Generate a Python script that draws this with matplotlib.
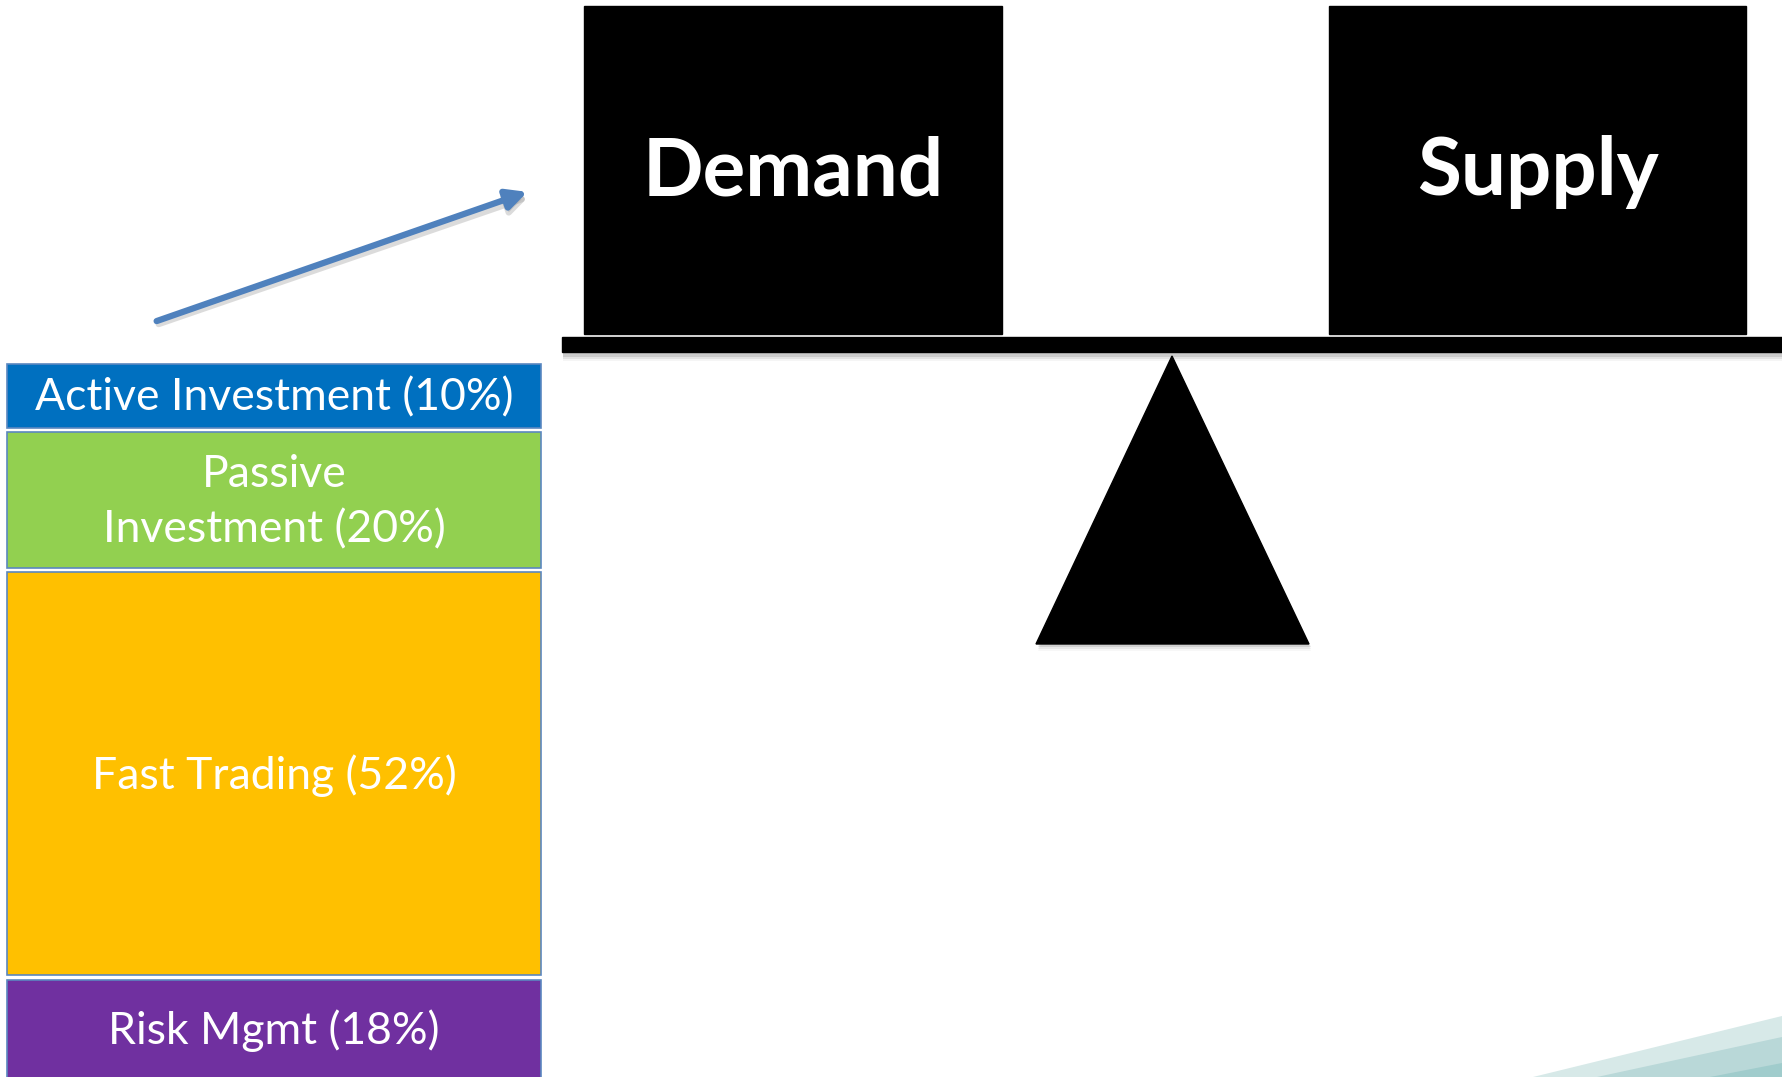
import numpy as np
import matplotlib.pyplot as plt
from matplotlib.patches import Rectangle, Polygon, FancyArrowPatch

# Market participants share (stacked column on the left)
categories = ["Active Investment", "Passive Investment", "Fast Trading", "Risk Mgmt"]
shares = [10, 20, 52, 18]
seg_colors = ["#0070C0", "#92D050", "#FFC000", "#7030A0"]

# Balance pans
pan_labels = ["Demand", "Supply"]

FONT = ["Lato", "DejaVu Sans"]
W, H = 1782, 1077

fig = plt.figure(figsize=(W / 100, H / 100), dpi=100)
ax = fig.add_axes([0, 0, 1, 1])
ax.set_xlim(0, W)
ax.set_ylim(H, 0)
ax.axis("off")

# --- stacked column (box heights are layout, not data-proportional)
seg_top = [364, 432, 572, 980]
seg_bot = [428, 568, 975, 1082]
x0, x1 = 7, 541
for i in range(len(categories)):
  ax.bar((x0 + x1) / 2, seg_bot[i] - seg_top[i], bottom=seg_top[i],
         width=x1 - x0, color=seg_colors[i], edgecolor="#5b87c0",
         linewidth=1.2, zorder=2)
  name = categories[i]
  if name == "Passive Investment":
    txt = "Passive\nInvestment (%d%%)" % shares[i]
  else:
    txt = "%s (%d%%)" % (name, shares[i])
  ax.text((x0 + x1) / 2, (seg_top[i] + min(seg_bot[i], H)) / 2 + 2, txt,
          ha="center", va="center", color="white", fontsize=32,
          family=FONT, linespacing=1.42, zorder=3)

# --- arrow pointing at the demand pan
ax.add_patch(FancyArrowPatch((156, 325), (531, 196), arrowstyle="-|>",
                             mutation_scale=30, color="#9a9a9a", alpha=0.35,
                             lw=4.5, zorder=1))
ax.add_patch(FancyArrowPatch((154, 322), (530, 191), arrowstyle="-|>",
                             mutation_scale=30, color="#4F81BD", lw=4.5,
                             zorder=2))

# --- balance: pans, beam, fulcrum
pans_x = [(584, 1002), (1329, 1746)]
for (px0, px1), lab in zip(pans_x, pan_labels):
  ax.add_patch(Rectangle((px0, 6), px1 - px0, 328, color="black", zorder=2))
  ax.text((px0 + px1) / 2, 172, lab, ha="center", va="center",
          color="white", fontsize=57.5, fontweight="bold", family=FONT,
          zorder=3)

# beam with soft shadow
for k, a in enumerate([0.10, 0.07, 0.04]):
  ax.add_patch(Rectangle((563, 341 + 2 * k), W - 563, 16, color="black",
                         alpha=a, lw=0, zorder=1))
ax.add_patch(Rectangle((562, 337), W - 562, 15, color="black", zorder=2))

# fulcrum triangle with soft shadow
for k, a in enumerate([0.10, 0.06, 0.03]):
  ax.add_patch(Polygon([(1038, 647 + 2 * k), (1311, 647 + 2 * k),
                        (1174, 360)], closed=True, color="black", alpha=a,
                       lw=0, zorder=1))
ax.add_patch(Polygon([(1036, 644), (1309, 644), (1172, 356)], closed=True,
                     color="black", zorder=2))

# --- decorative teal wedges, bottom right
ax.add_patch(Polygon([(1533, H), (W, 1016), (W, H)], closed=True,
                     color="#D7E9E8", lw=0, zorder=1))
ax.add_patch(Polygon([(1597, H), (W, 1037), (W, H)], closed=True,
                     color="#B9D8D8", lw=0, zorder=1))
ax.add_patch(Polygon([(1710, H), (W, 1063), (W, H)], closed=True,
                     color="#A0CCCC", lw=0, zorder=1))

fig.savefig("out.png", dpi=100, facecolor="white")
